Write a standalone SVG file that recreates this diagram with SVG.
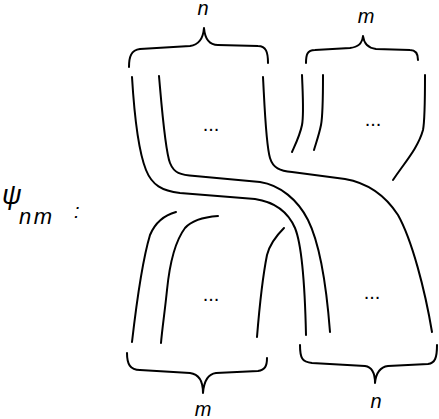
<svg xmlns="http://www.w3.org/2000/svg" width="439" height="419" viewBox="0 0 439 419">
<style>
.s{fill:none;stroke:#000;stroke-width:2;stroke-linecap:round;stroke-linejoin:round}
.t{font-family:"Liberation Sans",Arial,sans-serif;font-style:italic;fill:#000}
.d{font-family:"Liberation Sans",Arial,sans-serif;font-size:20px;fill:#000;text-anchor:middle}
</style>
<rect width="439" height="419" fill="#fff"/>
<g id="label">
<text class="t" x="2" y="204" font-size="27">ψ</text>
<text class="t" x="19" y="224" font-size="22" letter-spacing="2.5">nm</text>
<text class="t" x="74" y="218" font-size="20" font-style="normal">:</text>
</g>
<g id="brace-top-n">
<path class="s" d="M129,67 C129,57 131,50 140,49 L190,46 C198,45 203,40 204,28 C205,40 210,45 218,45 L258,46 C266,46 268,52 268,63"/>
<text class="t" x="203" y="15" font-size="20" text-anchor="middle">n</text>
</g>
<g id="brace-top-m">
<path class="s" d="M306,63 C306,55 307,50 315,50 L350,48 C358,47 362,44 363,36 C364,44 368,48 376,49 L410,50 C416,50 418,55 418,60"/>
<text class="t" x="366" y="23" font-size="20" text-anchor="middle">m</text>
</g>
<g id="brace-bottom-m">
<path class="s" d="M127,353 C127,364 130,370 140,370 L190,373 C198,374 203,380 203,393 C204,380 208,374 216,373 L258,371 C265,370 267,366 267,358"/>
<text class="t" x="203" y="416" font-size="20" text-anchor="middle">m</text>
</g>
<g id="brace-bottom-n">
<path class="s" d="M300,345 C300,358 302,362 312,363 L365,366 C372,367 375,373 375,383 C376,373 380,367 388,366 L428,364 C435,363 437,358 437,345"/>
<text class="t" x="376" y="408" font-size="20" text-anchor="middle">n</text>
</g>
<g id="strands">
<path class="s" d="M132,77 C134,110 138,150 146,170 C152,185 162,191 180,193 L255,199 C275,202 288,212 295,228 C302,245 305,290 306,335"/>
<path class="s" d="M159,76 C162,110 165,150 170,163 C174,173 180,175 195,176 L260,182 C280,185 298,200 308,220 C318,240 326,280 330,332"/>
<path class="s" d="M263,77 C265,115 266,145 270,158 C273,168 280,171 292,172 L345,179 C368,183 385,195 398,215 C412,240 425,290 432,332"/>
<path class="s" d="M302,75 C303,100 304,115 302,125 C300,135 296,143 292,152"/>
<path class="s" d="M323,75 C323,100 323,115 321,125 C319,135 316,143 314,150"/>
<path class="s" d="M425,75 C425,100 425,120 423,130 C418,148 405,162 393,180"/>
<path class="s" d="M176,212 C165,215 155,223 150,235 C144,255 138,290 132,342"/>
<path class="s" d="M218,216 C205,217 192,220 185,228 C176,240 170,260 167,290 C165,310 162,330 161,343"/>
<path class="s" d="M284,228 C277,235 270,243 267,255 C263,275 260,300 257,337"/>
</g>
<g id="dots">
<text class="d" x="211" y="131">...</text>
<text class="d" x="373" y="126">...</text>
<text class="d" x="211" y="301">...</text>
<text class="d" x="372" y="299">...</text>
</g>
</svg>
